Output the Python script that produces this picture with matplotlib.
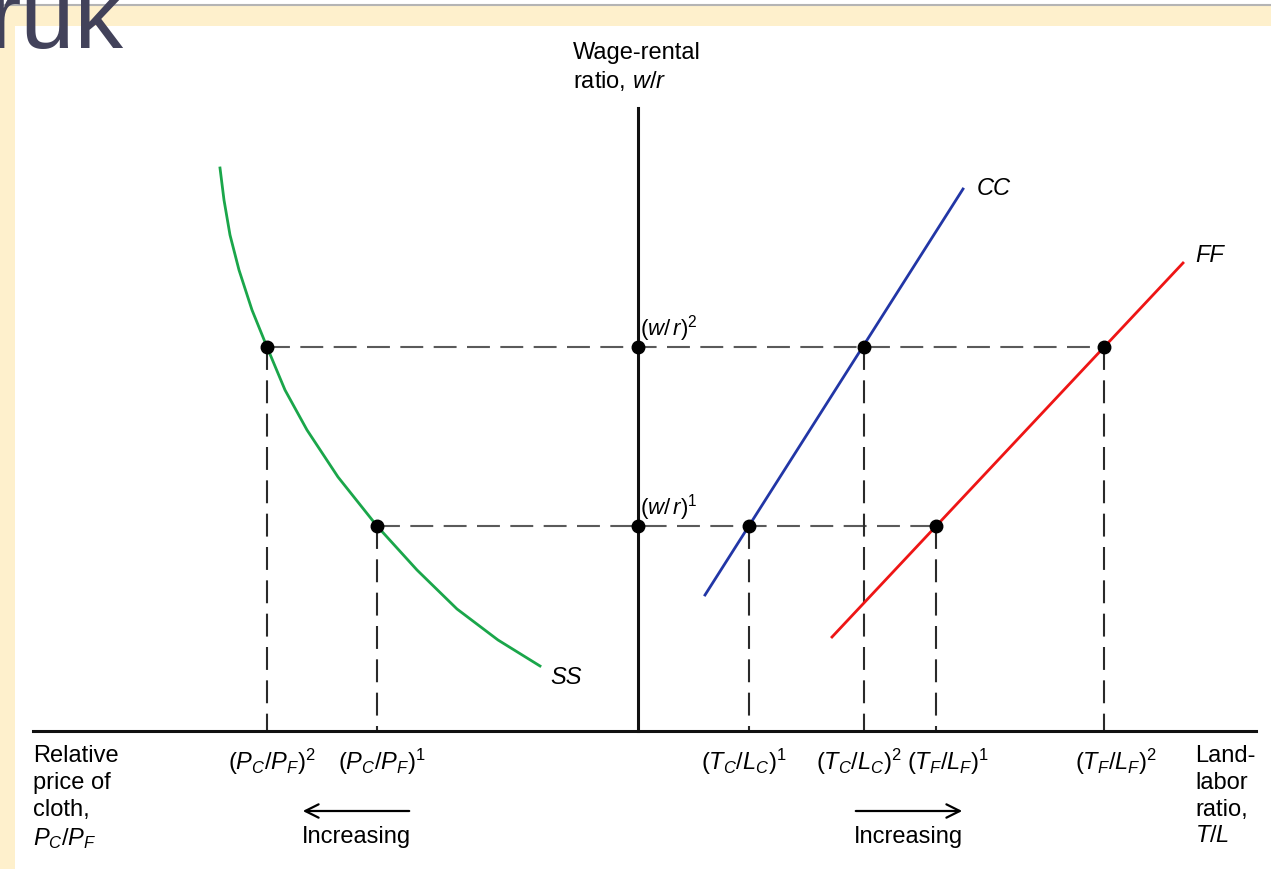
import matplotlib.pyplot as plt
from matplotlib.patches import Rectangle

plt.rcParams['font.family'] = 'Liberation Sans'
plt.rcParams['mathtext.fontset'] = 'custom'
plt.rcParams['mathtext.rm'] = 'Liberation Sans'
plt.rcParams['mathtext.it'] = 'Liberation Sans:italic'
plt.rcParams['mathtext.bf'] = 'Liberation Sans:bold'

# wage-rental levels (w/r)^1, (w/r)^2
wr = [2.05, 3.84]
# quantities read at each level (left side is P_C/P_F, increasing to the left)
pc_pf = [-2.61, -3.71]
tc_lc = [1.11, 2.26]
tf_lf = [2.98, 4.66]

# SS curve
ss_x = [-4.18, -4.14, -4.08, -3.99, -3.86, -3.71, -3.53, -3.31, -3.00,
        -2.61, -2.21, -1.81, -1.40, -0.98]
ss_y = [5.63, 5.31, 4.96, 4.61, 4.21, 3.84, 3.41, 3.01, 2.54,
        2.05, 1.61, 1.22, 0.91, 0.65]
# CC and FF lines
cc_x = [0.67, 3.25]
cc_y = [1.36, 5.42]
ff_x = [1.94, 5.45]
ff_y = [0.94, 4.68]

x_axis = [-6.05, 6.18]
y_axis = [0, 6.23]

pc_labels = [r'$(P_C/P_F)^1$', r'$(P_C/P_F)^2$']
tc_labels = [r'$(T_C/L_C)^1$', r'$(T_C/L_C)^2$']
tf_labels = [r'$(T_F/L_F)^1$', r'$(T_F/L_F)^2$']
wr_labels = [r'$(w/\,r)^1$', r'$(w/\,r)^2$']

fig = plt.figure(figsize=(12.71, 8.69), dpi=100)

# slide frame
bg = fig.add_axes([0, 0, 1, 1], zorder=0)
bg.set_xlim(0, 1271)
bg.set_ylim(869, 0)
bg.axis('off')
bg.add_patch(Rectangle((0, 6), 1271, 20, color='#fef0cc', lw=0))
bg.add_patch(Rectangle((0, 6), 15, 863, color='#fef0cc', lw=0))
bg.plot([0, 1271], [4.5, 4.5], color='#b4b4b4', lw=1.5)
bg.text(-12, 48, 'ruk', fontsize=70, color='#42425a', va='baseline')

ax = fig.add_axes([0, 0, 1, 1], zorder=1)
ax.set_xlim(-6.38, 6.33)
ax.set_ylim(-1.38, 7.31)
ax.axis('off')

fs = 17
dash = (11, 5)

# dashed guides
for lvl, left, right in zip(wr, pc_pf, tf_lf):
    ax.plot([left, right], [lvl, lvl], color='#5a5a5a', lw=1.5, dashes=dash, zorder=2)
for xs in (pc_pf, tc_lc, tf_lf):
    for xv, lvl in zip(xs, wr):
        ax.plot([xv, xv], [lvl, 0], color='#2a2a2a', lw=1.5, dashes=dash, zorder=2)

# axes
ax.plot(x_axis, [0, 0], color='#111111', lw=2.2, zorder=3)
ax.plot([0, 0], y_axis, color='#111111', lw=2.2, zorder=3)

# curves
ax.plot(ss_x, ss_y, color='#1aa64a', lw=2.0, zorder=4, solid_joinstyle='round')
ax.plot(cc_x, cc_y, color='#2236a6', lw=2.0, zorder=4)
ax.plot(ff_x, ff_y, color='#ee1515', lw=2.0, zorder=4)

# points
for xs in (pc_pf, tc_lc, tf_lf, [0, 0]):
    ax.plot(xs, wr, 'o', color='black', ms=9, zorder=5)

# curve labels
ax.text(cc_x[1] + 0.14, cc_y[1], 'CC', style='italic', fontsize=fs, va='center')
ax.text(ff_x[1] + 0.12, ff_y[1] + 0.07, 'FF', style='italic', fontsize=fs, va='center')
ax.text(ss_x[-1] + 0.10, ss_y[-1] - 0.12, 'SS', style='italic', fontsize=fs, va='center')

# w/r labels
for lvl, lab in zip(wr, wr_labels):
    ax.text(0.02, lvl + 0.18, lab, fontsize=fs - 1, va='center', ha='left')

# tick labels on the horizontal axis
for xs, labs, dx in ((pc_pf, pc_labels, 0.05), (tc_lc, tc_labels, -0.05), (tf_lf, tf_labels, 0.12)):
    for xv, lab in zip(xs, labs):
        ax.text(xv + dx, -0.39, lab, fontsize=fs, ha='center', va='baseline')

# axis titles
ax.text(-0.65, 6.89, 'Wage-rental\nratio, $w/r$', fontsize=fs, va='top', ha='left',
        linespacing=1.25)
ax.text(-6.05, -0.14, 'Relative\nprice of\ncloth,\n$P_C/P_F$', fontsize=fs, va='top',
        ha='left', linespacing=1.28)
ax.text(5.57, -0.14, 'Land-\nlabor\nratio,\n$T/L$', fontsize=fs, va='top',
        ha='left', linespacing=1.28)

# increasing arrows
ax.annotate('', xy=(-3.38, -0.80), xytext=(-2.26, -0.80),
            arrowprops=dict(arrowstyle='->', lw=1.6, color='black', mutation_scale=24))
ax.annotate('', xy=(3.27, -0.80), xytext=(2.15, -0.80),
            arrowprops=dict(arrowstyle='->', lw=1.6, color='black', mutation_scale=24))
ax.text(-2.82, -1.12, 'Increasing', fontsize=fs, ha='center', va='baseline')
ax.text(2.70, -1.12, 'Increasing', fontsize=fs, ha='center', va='baseline')

fig.savefig('out.png', dpi=100)
